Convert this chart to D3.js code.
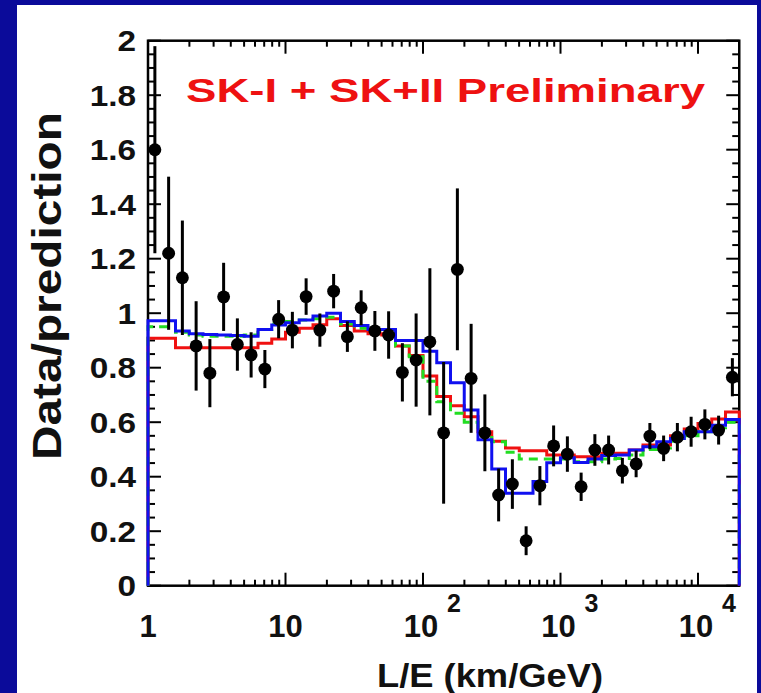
<!DOCTYPE html>
<html><head><meta charset="utf-8">
<script src="https://cdn.jsdelivr.net/npm/d3@7"></script>
<style>
html,body{margin:0;padding:0;background:#0b0b9a;}
svg{display:block;}
text{font-family:"Liberation Sans",Arial,sans-serif;font-weight:bold;}
</style></head>
<body>
<svg id="chart" width="761" height="693"></svg>
<script>
// ---- data (43 bins, 0.1 wide in log10(L/E), from L/E = 1) ----
const logBinStart = 0;
const logBinWidth = 0.1;
const dataRatio = [1.60,1.22,1.13,0.88,0.78,1.06,0.885,0.847,0.795,0.978,0.938,1.061,0.938,1.081,0.914,1.020,0.935,0.920,0.783,0.828,0.895,0.561,1.161,0.761,0.561,0.333,0.373,0.165,0.367,0.513,0.483,0.363,0.498,0.498,0.422,0.447,0.549,0.504,0.545,0.565,0.592,0.571,0.765];
const dataErr = [0.38,0.281,0.21,0.164,0.125,0.125,0.096,0.083,0.07,0.07,0.067,0.067,0.061,0.063,0.056,0.064,0.073,0.087,0.107,0.171,0.27,0.26,0.297,0.2,0.141,0.097,0.091,0.053,0.072,0.075,0.065,0.052,0.058,0.053,0.047,0.049,0.048,0.047,0.052,0.055,0.055,0.053,0.07];
const bluePred = [0.972,0.972,0.935,0.925,0.922,0.92,0.918,0.915,0.94,0.957,0.965,0.975,0.99,1.0,0.97,0.955,0.94,0.94,0.90,0.90,0.86,0.818,0.745,0.645,0.536,0.428,0.339,0.339,0.382,0.451,0.47,0.452,0.465,0.478,0.48,0.498,0.51,0.528,0.54,0.565,0.565,0.589,0.61];
const redPred = [0.908,0.908,0.873,0.873,0.873,0.873,0.873,0.873,0.89,0.905,0.93,0.945,0.958,0.98,0.955,0.935,0.925,0.92,0.88,0.845,0.77,0.694,0.66,0.62,0.565,0.53,0.505,0.495,0.495,0.48,0.48,0.473,0.473,0.486,0.486,0.498,0.516,0.516,0.55,0.575,0.595,0.612,0.637];
const greenPred = [0.95,0.95,0.93,0.92,0.915,0.915,0.915,0.92,0.94,0.96,0.97,0.975,0.98,0.985,0.96,0.945,0.93,0.925,0.88,0.84,0.75,0.675,0.633,0.60,0.565,0.528,0.49,0.465,0.465,0.465,0.465,0.455,0.455,0.465,0.467,0.48,0.50,0.505,0.53,0.55,0.565,0.58,0.60];
const yTickLabels = ["0","0.2","0.4","0.6","0.8","1","1.2","1.4","1.6","1.8","2"];
const xDecades = [1,10,100,1000,10000];
const xDecadeExp = ["","","2","3","4"];
const titleText = "SK-I + SK+II Preliminary";
const xTitle = "L/E (km/GeV)";
const yTitle = "Data/prediction";

// ---- layout ----
const svg = d3.select("#chart");
svg.append("rect").attr("x",17).attr("y",5).attr("width",740).attr("height",700).attr("fill","#fff");

const X0 = 148, X1 = 739.25, Y0 = 585.7, Y1 = 40.7;
const xMax = Math.pow(10, logBinStart + logBinWidth*dataRatio.length);
const x = d3.scaleLog().domain([1, xMax]).range([X0, X1]);
const y = d3.scaleLinear().domain([0, 2]).range([Y0, Y1]);

const edges = d3.range(dataRatio.length+1).map(k => Math.pow(10, logBinStart + k*logBinWidth));
const centers = d3.range(dataRatio.length).map(k => Math.pow(10, logBinStart + (k+0.5)*logBinWidth));

function histPts(vals){
  const p = [[edges[0],0]];
  vals.forEach((v,i)=>{ p.push([edges[i],v]); p.push([edges[i+1],v]); });
  p.push([edges[vals.length],0]);
  return p;
}
const line = d3.line().x(d=>x(d[0])).y(d=>y(d[1]));

// frame
svg.append("rect").attr("x",X0).attr("y",Y1).attr("width",X1-X0).attr("height",Y0-Y1)
  .attr("fill","none").attr("stroke","#000").attr("stroke-width",2.5);

// ticks
const ax = svg.append("g").attr("stroke","#000").attr("stroke-width",2);
d3.range(0, 2.0001, 0.05).forEach(v=>{
  const major = Math.abs(v/0.2 - Math.round(v/0.2)) < 1e-6;
  const L = major ? 13 : 7;
  ax.append("line").attr("x1",X0).attr("x2",X0+L).attr("y1",y(v)).attr("y2",y(v));
  ax.append("line").attr("x1",X1).attr("x2",X1-L).attr("y1",y(v)).attr("y2",y(v));
});
xDecades.forEach(d=>{
  for(let m=1;m<=9;m++){
    const v = d*m;
    if (v > xMax) break;
    const L = m===1 ? 13 : 6;
    ax.append("line").attr("x1",x(v)).attr("x2",x(v)).attr("y1",Y0).attr("y2",Y0-L);
    ax.append("line").attr("x1",x(v)).attr("x2",x(v)).attr("y1",Y1).attr("y2",Y1+L);
  }
});

// histograms
const g = svg.append("g");
g.append("path").attr("d", line(histPts(redPred))).attr("fill","none").attr("stroke","#f01010").attr("stroke-width",3);
g.append("path").attr("d", line(histPts(greenPred))).attr("fill","none").attr("stroke","#22dd22").attr("stroke-width",3).attr("stroke-dasharray","9,6");
g.append("path").attr("d", line(histPts(bluePred))).attr("fill","none").attr("stroke","#1010f0").attr("stroke-width",3);

// data points
const pts = svg.append("g");
centers.forEach((c,i)=>{
  const lo = Math.max(0, dataRatio[i]-dataErr[i]), hi = Math.min(2, dataRatio[i]+dataErr[i]);
  pts.append("line").attr("x1",x(c)).attr("x2",x(c)).attr("y1",y(lo)).attr("y2",y(hi))
    .attr("stroke","#000").attr("stroke-width",3);
});
pts.selectAll("path.m").data(centers).join("path").attr("class","m")
  .attr("transform",(c,i)=>`translate(${x(c)},${y(dataRatio[i])})`)
  .attr("d", d3.symbol().type(d3.symbolCircle).size(130)).attr("fill","#000");

// y tick labels
yTickLabels.forEach((t,i)=>{
  svg.append("text").attr("transform",`translate(136,${y(i*0.2)+10.5}) scale(1.15,1)`)
    .attr("text-anchor","end").attr("font-size",29).attr("fill","#111").text(t);
});
// x tick labels
xDecades.forEach((d,i)=>{
  const tx = x(d);
  if (xDecadeExp[i]===""){
    svg.append("text").attr("x",tx).attr("y",637).attr("text-anchor","middle").attr("font-size",31).attr("fill","#111").text(String(d));
  } else {
    svg.append("text").attr("x",tx-2).attr("y",637).attr("text-anchor","middle").attr("font-size",31).attr("fill","#111").text("10");
    svg.append("text").attr("x",tx+24).attr("y",612).attr("text-anchor","start").attr("font-size",25).attr("fill","#111").text(xDecadeExp[i]);
  }
});
// axis titles
svg.append("text").attr("x",377).attr("y",687).attr("font-size",33).attr("fill","#111")
  .attr("textLength",226).attr("lengthAdjust","spacingAndGlyphs").text(xTitle);
svg.append("text").attr("transform","translate(61,460) rotate(-90)").attr("font-size",40).attr("fill","#111")
  .attr("textLength",348).attr("lengthAdjust","spacingAndGlyphs").text(yTitle);
// title
svg.append("text").attr("x",186).attr("y",102).attr("font-size",33).attr("fill","#ee1111")
  .attr("textLength",519).attr("lengthAdjust","spacingAndGlyphs").text(titleText);
</script>
</body></html>
